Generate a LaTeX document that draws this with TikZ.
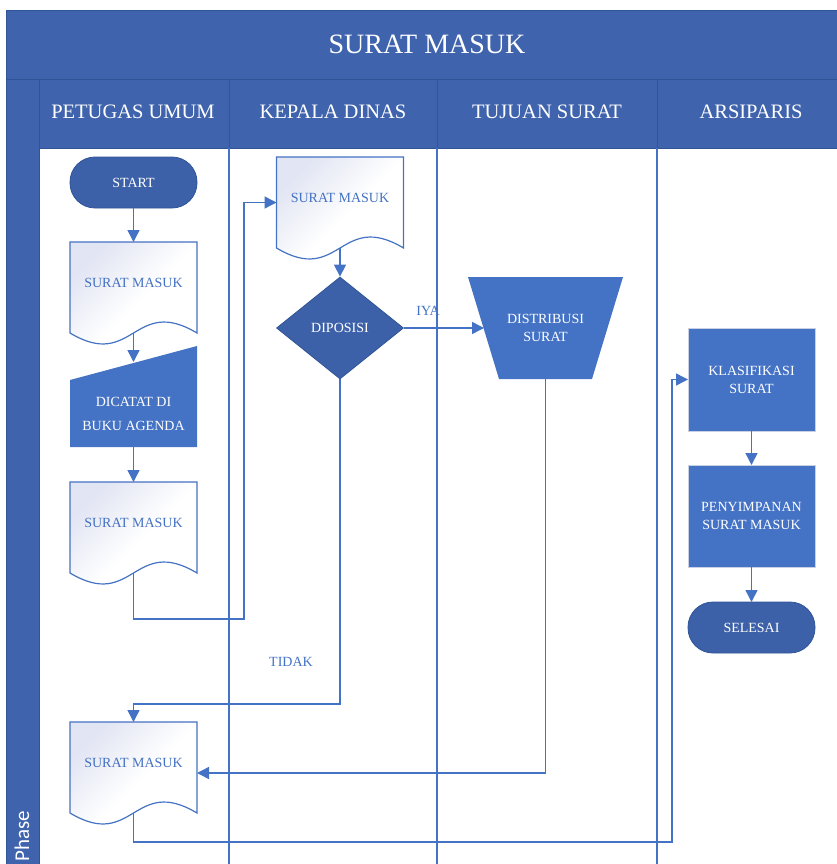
\documentclass[tikz,border=0pt]{standalone}
\usepackage{fontspec}
\setmainfont{Liberation Serif}
\newfontfamily\phasefont{Carlito}
\usetikzlibrary{arrows.meta,calc,shapes.geometric}

\definecolor{hdrblue}{HTML}{3F64AD}
\definecolor{hdrline}{HTML}{2F5597}
\definecolor{laneblue}{HTML}{4472C4}
\definecolor{darkfill}{HTML}{3D61A9}
\definecolor{docshade}{HTML}{E2E5F3}
\definecolor{procedge}{HTML}{C9D1E4}

\tikzset{
  lanesep/.style={draw=laneblue, line width=1.3pt},
  cellsep/.style={draw=hdrline, line width=0.8pt},
  conn/.style={draw=laneblue, line width=1.5pt, -{Triangle[length=12pt,width=12pt]}},
  hdrtext/.style={text=white, inner sep=0pt},
  box/.style={rectangle, minimum width=127pt, inner sep=0pt, outer sep=0pt},
  procbox/.style={box, fill=laneblue, draw=procedge, line width=0.8pt, text=white,
    font=\fontsize{14}{18}\selectfont, align=center},
  termbox/.style={box, minimum height=51pt, rounded corners=25pt, fill=darkfill,
    draw=hdrline, line width=0.8pt, text=white, font=\fontsize{14}{18}\selectfont},
  docbox/.style={box, minimum height=91pt},
  doctext/.style={text=laneblue, font=\fontsize{14}{18}\selectfont, inner sep=0pt},
  filltext/.style={text=white, font=\fontsize{14}{18}\selectfont, align=center, inner sep=0pt},
  flowlabel/.style={text=laneblue, font=\fontsize{14}{18}\selectfont, inner sep=0pt},
}

% document symbol: straight top and sides, wavy bottom edge,
% faint tint in the upper left corner fading to white
\newcommand\docshape[2]{%
  \shadedraw[top color=docshade, bottom color=white, middle color=white,
    shading angle=45, draw=laneblue, line width=1.2pt]
    (#1.north west) -- (#1.north east) -- (#1.south east)
    .. controls ($(#1.south)+(0,-38)$) and ($(#1.south)+(0,38)$) .. (#1.south west)
    -- cycle;
  \node[doctext] at ($(#1.center)+(0,-5)$) {#2};
}

\begin{document}
\begin{tikzpicture}[x=1pt, y=-1pt]
\useasboundingbox (0,0) rectangle (837,864);

% pool header, lane header row and phase strip
\fill[hdrblue] (6,10) rectangle (837,79);
\fill[hdrblue] (6,79) rectangle (39,864);
\fill[hdrblue] (39,79) rectangle (837,148);
\draw[cellsep] (6,10) -- (837,10);
\draw[cellsep] (6,10) -- (6,864);
\draw[cellsep] (6,79) -- (837,79);
\draw[cellsep] (39,79) -- (39,864);
\draw[cellsep] (39,148) -- (837,148);
\foreach \lx in {229,437,657} {
  \draw[cellsep] (\lx,79) -- (\lx,148);
  \draw[lanesep] (\lx,148) -- (\lx,864);
}

\node[hdrtext, font=\fontsize{28}{30}\selectfont] (title) at (427,44) {SURAT MASUK};
\node[hdrtext, font=\fontsize{20.5}{22}\selectfont] (lane1) at (133,112) {PETUGAS UMUM};
\node[hdrtext, font=\fontsize{20.5}{22}\selectfont] (lane2) at (333,112) {KEPALA DINAS};
\node[hdrtext, font=\fontsize{20.5}{22}\selectfont] (lane3) at (547,112) {TUJUAN SURAT};
\node[hdrtext, font=\fontsize{20.5}{22}\selectfont] (lane4) at (751,112) {ARSIPARIS};
\node[hdrtext, rotate=90, anchor=west, font=\phasefont\fontsize{21}{21}\selectfont]
  (phase) at (22,862) {Phase};

% PETUGAS UMUM lane
\node[termbox] (start) at (133.5,182.5) {START};
\node[docbox, anchor=north] (d1) at (133.5,242) {};
\docshape{d1}{SURAT MASUK}
\node[box, minimum height=101pt, anchor=north] (agenda) at (133.5,346) {};
\fill[laneblue] (agenda.south west) -- ($(agenda.north west)+(0,34)$)
  -- (agenda.north east) -- (agenda.south east) -- cycle;
\node[filltext, font=\fontsize{14}{24}\selectfont] at (133.5,414) {DICATAT DI\\BUKU AGENDA};
\coordinate (agendain) at (133.5,362);
\node[docbox, anchor=north] (d2) at (133.5,482) {};
\docshape{d2}{SURAT MASUK}
\node[docbox, anchor=north] (d4) at (133.5,722) {};
\docshape{d4}{SURAT MASUK}

% KEPALA DINAS lane
\node[docbox, anchor=north] (d3) at (340,157) {};
\docshape{d3}{SURAT MASUK}
\node[diamond, minimum width=127pt, minimum height=102pt, inner sep=0pt,
  fill=darkfill, draw=hdrline, line width=0.8pt, text=white,
  font=\fontsize{14}{18}\selectfont] (dip) at (340,328) {DIPOSISI};

% TUJUAN SURAT lane
\node[box, minimum width=155pt, minimum height=102pt] (dist) at (545.5,328) {};
\fill[laneblue] (dist.north west) -- (dist.north east)
  -- ($(dist.south east)+(-31,0)$) -- ($(dist.south west)+(31,0)$) -- cycle;
\node[filltext] at (545.5,328) {DISTRIBUSI\\SURAT};
\coordinate (distin) at (484,328);

% ARSIPARIS lane
\node[procbox, minimum height=103pt] (klas) at (751.5,379.5) {KLASIFIKASI\\SURAT};
\node[procbox, minimum height=102pt] (peny) at (751.5,516) {PENYIMPANAN\\SURAT MASUK};
\node[termbox] (sel) at (751.5,627.5) {SELESAI};

% bend points of the routed connectors
\coordinate (j1) at (244,619);
\coordinate (j2) at (340,704);
\coordinate (j3) at (672,842);
\coordinate (d4in) at (197,773);

% connectors
\draw[conn] (start) -- (d1);
\draw[conn] (d1.south) -- (agendain);
\draw[conn] (agenda) -- (d2);
\draw[conn] (d2.south) |- (j1) |- (d3.west);
\draw[conn] (d3.south) -- (dip);
\draw[conn] (dip) -- (distin);
\draw[conn] (dip.south) -- (j2) -| (d4.north);
\draw[conn] (dist.south) |- (d4in);
\draw[conn] (d4.south) |- (j3) |- (klas.west);
\draw[conn] (klas) -- (peny);
\draw[conn] (peny) -- (sel);

\node[flowlabel] (iya) at (428,311) {IYA};
\node[flowlabel] (tidak) at (291,662) {TIDAK};
\end{tikzpicture}
\end{document}
